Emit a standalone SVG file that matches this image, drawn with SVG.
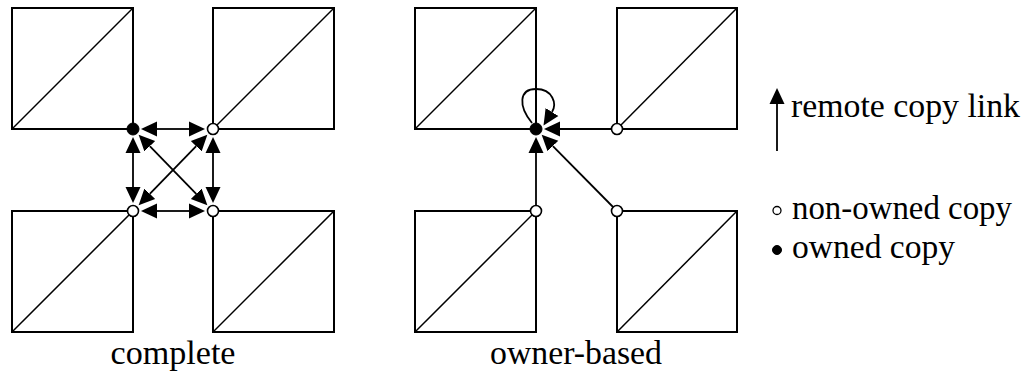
<svg xmlns="http://www.w3.org/2000/svg" width="1028" height="374" viewBox="0 0 1028 374">
<style>
.sq{fill:none;stroke:#000;stroke-width:2}
.dg{fill:none;stroke:#000;stroke-width:1.5}
.cn{fill:none;stroke:#000;stroke-width:1.8}
.open{fill:#fff;stroke:#000;stroke-width:1.6}
.own{fill:#000;stroke:#000;stroke-width:1}
text{font-family:'Liberation Serif',serif;font-size:33px;fill:#000}
</style>
<defs>
<marker id="ah" markerUnits="userSpaceOnUse" markerWidth="18" markerHeight="18" viewBox="0 -9 18 18" refX="0" refY="0" orient="auto-start-reverse">
<path d="M0,-7.5 L16,0 L0,7.5 Z" fill="#000"/>
</marker>
</defs>
<rect width="1028" height="374" fill="#fff"/>

<g id="c-sq-tl"><rect class="sq" x="12" y="8" width="121" height="121"/><line class="dg" x1="12" y1="129" x2="133" y2="8"/></g>
<g id="c-sq-tr"><rect class="sq" x="213" y="8" width="121" height="121"/><line class="dg" x1="213" y1="129" x2="334" y2="8"/></g>
<g id="c-sq-bl"><rect class="sq" x="12" y="211" width="121" height="121"/><line class="dg" x1="12" y1="332" x2="133" y2="211"/></g>
<g id="c-sq-br"><rect class="sq" x="213" y="211" width="121" height="121"/><line class="dg" x1="213" y1="332" x2="334" y2="211"/></g>

<g id="o-sq-tl"><rect class="sq" x="415" y="8" width="121" height="121"/><line class="dg" x1="415" y1="129" x2="536" y2="8"/></g>
<g id="o-sq-tr"><rect class="sq" x="617" y="8" width="120" height="121"/><line class="dg" x1="617" y1="129" x2="737" y2="8"/></g>
<g id="o-sq-bl"><rect class="sq" x="415" y="211" width="121" height="121"/><line class="dg" x1="415" y1="332" x2="536" y2="211"/></g>
<g id="o-sq-br"><rect class="sq" x="617" y="211" width="120" height="121"/><line class="dg" x1="617" y1="332" x2="737" y2="211"/></g>

<g id="connectors">
<line class="cn" x1="157" y1="129" x2="189" y2="129" marker-start="url(#ah)" marker-end="url(#ah)"/>
<line class="cn" x1="157" y1="211" x2="189" y2="211" marker-start="url(#ah)" marker-end="url(#ah)"/>
<line class="cn" x1="133" y1="153" x2="133" y2="187" marker-start="url(#ah)" marker-end="url(#ah)"/>
<line class="cn" x1="213" y1="153" x2="213" y2="187" marker-start="url(#ah)" marker-end="url(#ah)"/>
<line class="cn" x1="149.8" y1="146.2" x2="196.2" y2="193.8" marker-start="url(#ah)" marker-end="url(#ah)"/>
<line class="cn" x1="196.2" y1="146.2" x2="149.8" y2="193.8" marker-start="url(#ah)" marker-end="url(#ah)"/>

<line class="cn" x1="617" y1="129" x2="560" y2="129" marker-end="url(#ah)"/>
<line class="cn" x1="536" y1="211" x2="536" y2="153" marker-end="url(#ah)"/>
<line class="cn" x1="617" y1="211" x2="552.9" y2="146.1" marker-end="url(#ah)"/>
<path class="cn" d="M532,123 C518,106 519,89 536,89 C553,89 557,104 552,112" marker-end="url(#ah)"/>

<line class="cn" x1="777" y1="151" x2="777" y2="104" marker-end="url(#ah)"/>
</g>

<g id="c-nodes">
<circle id="c-n1" class="own" cx="133" cy="129" r="6"/>
<circle id="c-n2" class="open" cx="213" cy="129" r="5.5"/>
<circle id="c-n3" class="open" cx="133" cy="211" r="5.5"/>
<circle id="c-n4" class="open" cx="213" cy="211" r="5.5"/>
</g>
<g id="o-nodes">
<circle id="o-n1" class="own" cx="536" cy="129" r="6"/>
<circle id="o-n2" class="open" cx="617" cy="129" r="5.5"/>
<circle id="o-n3" class="open" cx="536" cy="211" r="5.5"/>
<circle id="o-n4" class="open" cx="617" cy="211" r="5.5"/>
</g>

<g id="legend">
<text x="791" y="117" textLength="229" lengthAdjust="spacingAndGlyphs">remote copy link</text>
<circle class="open" cx="777" cy="210.5" r="4" style="stroke-width:1.3"/>
<text x="792" y="219" textLength="220" lengthAdjust="spacingAndGlyphs">non-owned copy</text>
<circle class="own" cx="777" cy="250" r="4.5"/>
<text x="792" y="258" textLength="163" lengthAdjust="spacingAndGlyphs">owned copy</text>
</g>

<g id="labels">
<text x="173" y="364" text-anchor="middle" textLength="125" lengthAdjust="spacingAndGlyphs">complete</text>
<text x="576" y="364" text-anchor="middle" textLength="172" lengthAdjust="spacingAndGlyphs">owner-based</text>
</g>
</svg>
